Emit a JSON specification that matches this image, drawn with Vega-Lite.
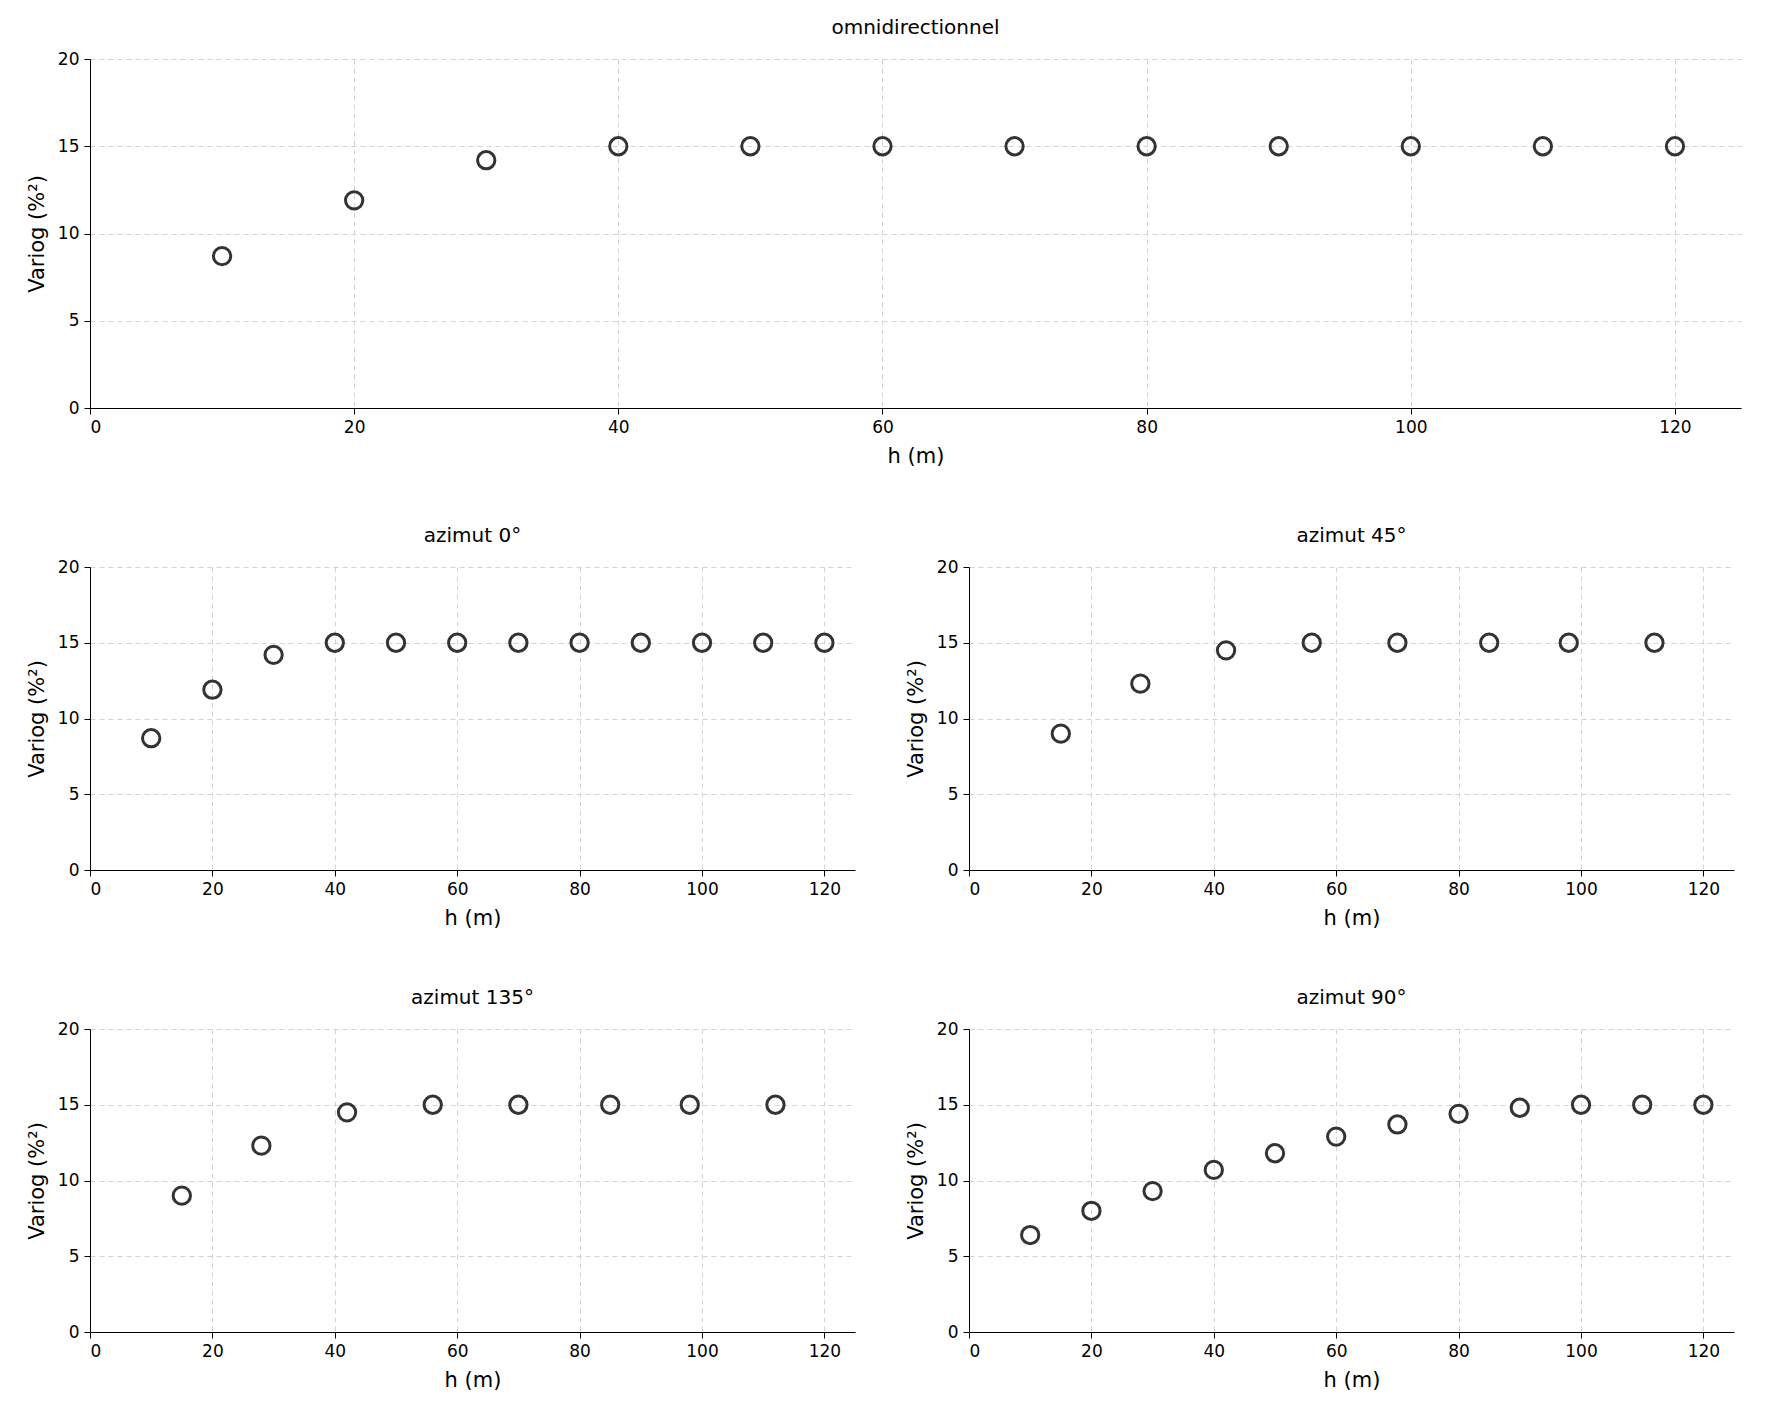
{
"$schema":"https://vega.github.io/schema/vega-lite/v6.json",
"padding":{"left":26,"top":18,"right":5,"bottom":5},
"background":"white",
"config":{"view":{"stroke":null},"font":"DejaVu Sans",
"title":{"fontSize":20,"fontWeight":"normal","color":"black","offset":12},
"axis":{"labelFontSize":17,"titleFontSize":21,"titleFontWeight":"normal","labelColor":"black","titleColor":"black","domainColor":"black","tickColor":"black","gridColor":"#d3d3d3","gridDash":[5,4],"tickSize":6,"labelPadding":5,"titlePadding":10},
"concat":{"spacing":60}},
"datasets":{"d":[
{"p":"omni","h":10,"v":8.7},{"p":"omni","h":20,"v":11.9},{"p":"omni","h":30,"v":14.2},{"p":"omni","h":40,"v":15},{"p":"omni","h":50,"v":15},{"p":"omni","h":60,"v":15},{"p":"omni","h":70,"v":15},{"p":"omni","h":80,"v":15},{"p":"omni","h":90,"v":15},{"p":"omni","h":100,"v":15},{"p":"omni","h":110,"v":15},{"p":"omni","h":120,"v":15},
{"p":"a0","h":10,"v":8.7},{"p":"a0","h":20,"v":11.9},{"p":"a0","h":30,"v":14.2},{"p":"a0","h":40,"v":15},{"p":"a0","h":50,"v":15},{"p":"a0","h":60,"v":15},{"p":"a0","h":70,"v":15},{"p":"a0","h":80,"v":15},{"p":"a0","h":90,"v":15},{"p":"a0","h":100,"v":15},{"p":"a0","h":110,"v":15},{"p":"a0","h":120,"v":15},
{"p":"a45","h":15,"v":9.0},{"p":"a45","h":28,"v":12.3},{"p":"a45","h":42,"v":14.5},{"p":"a45","h":56,"v":15},{"p":"a45","h":70,"v":15},{"p":"a45","h":85,"v":15},{"p":"a45","h":98,"v":15},{"p":"a45","h":112,"v":15},
{"p":"a135","h":15,"v":9.0},{"p":"a135","h":28,"v":12.3},{"p":"a135","h":42,"v":14.5},{"p":"a135","h":56,"v":15},{"p":"a135","h":70,"v":15},{"p":"a135","h":85,"v":15},{"p":"a135","h":98,"v":15},{"p":"a135","h":112,"v":15},
{"p":"a90","h":10,"v":6.4},{"p":"a90","h":20,"v":8.0},{"p":"a90","h":30,"v":9.3},{"p":"a90","h":40,"v":10.7},{"p":"a90","h":50,"v":11.8},{"p":"a90","h":60,"v":12.9},{"p":"a90","h":70,"v":13.7},{"p":"a90","h":80,"v":14.4},{"p":"a90","h":90,"v":14.8},{"p":"a90","h":100,"v":15},{"p":"a90","h":110,"v":15},{"p":"a90","h":120,"v":15}
]},
"vconcat":[
{"title":"omnidirectionnel","width":1651,"height":349,"data":{"name":"d"},"transform":[{"filter":"datum.p=='omni'"}],
"mark":{"type":"point","filled":false,"stroke":"#333","strokeWidth":3,"size":300,"opacity":1},
"encoding":{"x":{"field":"h","type":"quantitative","title":"h (m)","scale":{"domain":[0,125],"nice":false},"axis":{"values":[0,20,40,60,80,100,120]}},
"y":{"field":"v","type":"quantitative","title":"Variog (%²)","scale":{"domain":[0,20]},"axis":{"values":[0,5,10,15,20]}}}},
{"hconcat":[
{"title":"azimut 0°","width":765,"height":303,"data":{"name":"d"},"transform":[{"filter":"datum.p=='a0'"}],
"mark":{"type":"point","filled":false,"stroke":"#333","strokeWidth":3,"size":300,"opacity":1},
"encoding":{"x":{"field":"h","type":"quantitative","title":"h (m)","scale":{"domain":[0,125],"nice":false},"axis":{"values":[0,20,40,60,80,100,120]}},
"y":{"field":"v","type":"quantitative","title":"Variog (%²)","scale":{"domain":[0,20]},"axis":{"values":[0,5,10,15,20]}}}},
{"title":"azimut 45°","width":765,"height":303,"data":{"name":"d"},"transform":[{"filter":"datum.p=='a45'"}],
"mark":{"type":"point","filled":false,"stroke":"#333","strokeWidth":3,"size":300,"opacity":1},
"encoding":{"x":{"field":"h","type":"quantitative","title":"h (m)","scale":{"domain":[0,125],"nice":false},"axis":{"values":[0,20,40,60,80,100,120]}},
"y":{"field":"v","type":"quantitative","title":"Variog (%²)","scale":{"domain":[0,20]},"axis":{"values":[0,5,10,15,20]}}}}
],"spacing":50},
{"hconcat":[
{"title":"azimut 135°","width":765,"height":303,"data":{"name":"d"},"transform":[{"filter":"datum.p=='a135'"}],
"mark":{"type":"point","filled":false,"stroke":"#333","strokeWidth":3,"size":300,"opacity":1},
"encoding":{"x":{"field":"h","type":"quantitative","title":"h (m)","scale":{"domain":[0,125],"nice":false},"axis":{"values":[0,20,40,60,80,100,120]}},
"y":{"field":"v","type":"quantitative","title":"Variog (%²)","scale":{"domain":[0,20]},"axis":{"values":[0,5,10,15,20]}}}},
{"title":"azimut 90°","width":765,"height":303,"data":{"name":"d"},"transform":[{"filter":"datum.p=='a90'"}],
"mark":{"type":"point","filled":false,"stroke":"#333","strokeWidth":3,"size":300,"opacity":1},
"encoding":{"x":{"field":"h","type":"quantitative","title":"h (m)","scale":{"domain":[0,125],"nice":false},"axis":{"values":[0,20,40,60,80,100,120]}},
"y":{"field":"v","type":"quantitative","title":"Variog (%²)","scale":{"domain":[0,20]},"axis":{"values":[0,5,10,15,20]}}}}
],"spacing":50}
]}
